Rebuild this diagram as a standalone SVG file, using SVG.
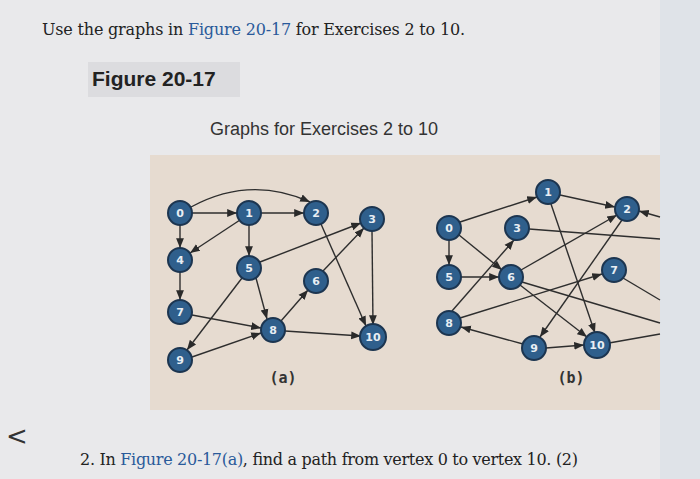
<svg xmlns="http://www.w3.org/2000/svg" width="700" height="479" viewBox="0 0 700 479">
<defs>
<marker id="ar" viewBox="0 0 10 10" refX="10" refY="5" markerWidth="7" markerHeight="7" orient="auto"><path d="M0,1 L10,5 L0,9 z" fill="#2a2a2a"/></marker>
<style>
.n circle{fill:#2f5f8c;stroke:#1c3550;stroke-width:2}
.n text{fill:#e8eef4;font-family:"DejaVu Sans",sans-serif;font-size:11px;font-weight:bold;text-anchor:middle;dominant-baseline:central}
.e path{fill:none;stroke:#2e2e2e;stroke-width:1.4}
.e .a{marker-end:url(#ar)}
.t{font-family:"DejaVu Serif",serif;font-size:16px;fill:#222}
</style>
</defs>
<rect width="700" height="479" fill="#e9e9eb"/>
<rect x="660" y="0" width="40" height="479" fill="#dfe3e8"/>
<rect x="150" y="155" width="510" height="255" fill="#e6dbd0"/>
<text class="t" x="42" y="35" textLength="423">Use the graphs in <tspan fill="#2a5a9a">Figure 20-17</tspan> for Exercises 2 to 10.</text>
<rect x="88" y="62" width="152" height="35" fill="#dcdcdf"/>
<text x="92" y="86" font-family="Liberation Sans,sans-serif" font-size="21" font-weight="bold" fill="#222">Figure 20-17</text>
<text x="210" y="135" font-family="Liberation Sans,sans-serif" font-size="18" fill="#333">Graphs for Exercises 2 to 10</text>
<text x="6" y="445" font-family="DejaVu Sans,sans-serif" font-size="26" fill="#333">&lt;</text>
<text class="t" x="80" y="465" textLength="498">2. In <tspan fill="#2a5a9a">Figure 20-17(a)</tspan>, find a path from vertex 0 to vertex 10. (2)</text>
<text x="283" y="383" font-family="DejaVu Sans Mono,monospace" font-size="15" font-weight="bold" fill="#333" text-anchor="middle">(a)</text>
<text x="571" y="383" font-family="DejaVu Sans Mono,monospace" font-size="15" font-weight="bold" fill="#333" text-anchor="middle">(b)</text>
<g class="e" id="connectors">
<path class="a" d="M192,213 L237,213"/>
<path class="a" d="M191,207 Q250,175 310,202"/>
<path class="a" d="M180,225 L180,248"/>
<path class="a" d="M261,213 L304,213"/>
<path class="a" d="M240,220 L190,253"/>
<path class="a" d="M249,225 L249,256"/>
<path class="a" d="M321,224 L366,326"/>
<path class="a" d="M372,231 L373,325"/>
<path class="a" d="M180,272 L180,300"/>
<path class="a" d="M260,262 L361,223"/>
<path class="a" d="M256,278 L267,319"/>
<path class="a" d="M242,278 L187,350"/>
<path class="a" d="M323,271 L364,228"/>
<path class="a" d="M192,315 L261,328"/>
<path class="a" d="M281,321 L308,290"/>
<path class="a" d="M285,331 L361,336"/>
<path class="a" d="M192,357 L261,333"/>
<path class="a" d="M460,222 L537,197"/>
<path class="a" d="M459,235 L502,270"/>
<path class="a" d="M449,240 L449,265"/>
<path class="a" d="M461,277 L499,277"/>
<path class="a" d="M560,195 L615,207"/>
<path class="a" d="M551,204 L595,333"/>
<path d="M529,229 L660,239"/>
<path class="a" d="M521,270 L617,215"/>
<path class="a" d="M520,285 L587,337"/>
<path d="M522,282 L660,323"/>
<path class="a" d="M622,220 L540,337"/>
<path class="a" d="M452,311 L514,240"/>
<path class="a" d="M460,318 L602,274"/>
<path class="a" d="M523,344 L461,327"/>
<path class="a" d="M546,348 L584,345"/>
<path d="M609,343 L660,334"/>
<path d="M623,278 L660,300"/>
<path class="a" d="M660,217 L639,211"/>
</g>
<g class="n" id="a0"><circle cx="180" cy="213" r="12"/><text x="180" y="213">0</text></g>
<g class="n" id="a1"><circle cx="249" cy="213" r="12"/><text x="249" y="213">1</text></g>
<g class="n" id="a2"><circle cx="316" cy="213" r="12"/><text x="316" y="213">2</text></g>
<g class="n" id="a3"><circle cx="372" cy="219" r="12"/><text x="372" y="219">3</text></g>
<g class="n" id="a4"><circle cx="180" cy="260" r="12"/><text x="180" y="260">4</text></g>
<g class="n" id="a5"><circle cx="249" cy="268" r="12"/><text x="249" y="268">5</text></g>
<g class="n" id="a6"><circle cx="316" cy="281" r="12"/><text x="316" y="281">6</text></g>
<g class="n" id="a7"><circle cx="180" cy="312" r="12"/><text x="180" y="312">7</text></g>
<g class="n" id="a8"><circle cx="273" cy="330" r="12"/><text x="273" y="330">8</text></g>
<g class="n" id="a9"><circle cx="180" cy="360" r="12"/><text x="180" y="360">9</text></g>
<g class="n" id="a10"><circle cx="373" cy="337" r="13"/><text x="373" y="337">10</text></g>
<g class="n" id="b0"><circle cx="449" cy="228" r="12"/><text x="449" y="228">0</text></g>
<g class="n" id="b1"><circle cx="548" cy="192" r="12"/><text x="548" y="192">1</text></g>
<g class="n" id="b2"><circle cx="627" cy="209" r="12"/><text x="627" y="209">2</text></g>
<g class="n" id="b3"><circle cx="517" cy="228" r="12"/><text x="517" y="228">3</text></g>
<g class="n" id="b5"><circle cx="449" cy="277" r="12"/><text x="449" y="277">5</text></g>
<g class="n" id="b6"><circle cx="511" cy="277" r="12"/><text x="511" y="277">6</text></g>
<g class="n" id="b7"><circle cx="614" cy="270" r="12"/><text x="614" y="270">7</text></g>
<g class="n" id="b8"><circle cx="449" cy="323" r="12"/><text x="449" y="323">8</text></g>
<g class="n" id="b9"><circle cx="534" cy="348" r="12"/><text x="534" y="348">9</text></g>
<g class="n" id="b10"><circle cx="597" cy="345" r="13"/><text x="597" y="345">10</text></g>
</svg>
